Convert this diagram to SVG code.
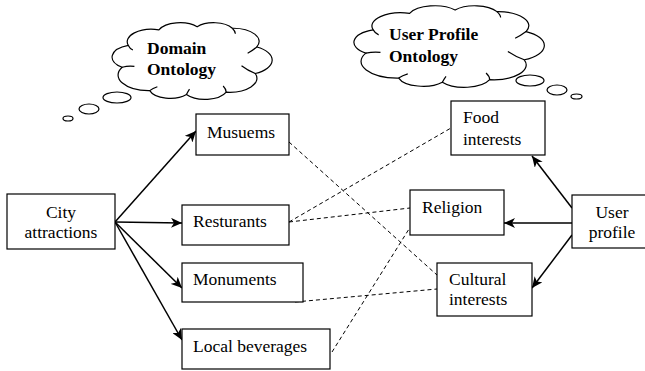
<svg xmlns="http://www.w3.org/2000/svg" width="645" height="371" viewBox="0 0 645 371">
<style>
.box{fill:#fff;stroke:#000;stroke-width:1.2}
.t{font-size:17.5px;fill:#000}
.b{font-size:17.5px;font-weight:bold;fill:#000}
.arr{stroke:#000;stroke-width:1.5;fill:none;marker-end:url(#ah)}
.dash{stroke:#000;stroke-width:1;fill:none;stroke-dasharray:4 3}
.cloud{fill:#fff;stroke:#000;stroke-width:1.2;vector-effect:non-scaling-stroke}
.hook{fill:none;stroke:#000;stroke-width:1.2;vector-effect:non-scaling-stroke}
.bub{fill:#fff;stroke:#000;stroke-width:1.2}
</style>
<defs>
<marker id="ah" markerUnits="userSpaceOnUse" markerWidth="12" markerHeight="10" refX="11" refY="5" orient="auto">
<path d="M0,0 L11,5 L0,10 L3,5 Z" fill="#000"/>
</marker>
<g id="cloudShape">
<path class="cloud" d="M6,58 A16,16 0 0 1 10,30 A16,16 0 0 1 30,10 A15,15 0 0 1 55,6 A14,14 0 0 1 78,8 A17,17 0 0 1 94,32 A19,19 0 0 1 93,66 A18,18 0 0 1 74,90 A15,15 0 0 1 48,93 A14,14 0 0 1 24,88 A20,20 0 0 1 6,58 Z"/>
<path class="hook" d="M6,58 Q10,56 14,57 M10,30 Q11,34 13,36 M78,8 Q80,12 80,15 M94,32 Q91,37 88,40 M93,66 Q88,62 84,56 M74,90 Q74,86 72,82 M48,93 Q49,89 50,86 M24,88 Q26,85 29,83"/>
</g>
</defs>

<g font-family="'Liberation Serif','Times New Roman',Tinos,'DejaVu Serif','Noto Serif',serif">
<g id="domain-ontology">
<use href="#cloudShape" transform="translate(113,22) scale(1.53,0.78)"/>
<ellipse class="bub" cx="117" cy="97.5" rx="14" ry="5.5"/>
<ellipse class="bub" cx="89" cy="109" rx="10" ry="5"/>
<ellipse class="bub" cx="68" cy="118.5" rx="5" ry="2.5"/>
<text class="b" x="147" y="54">Domain</text>
<text class="b" x="147" y="75">Ontology</text>
</g>

<g id="user-profile-ontology">
<use href="#cloudShape" transform="translate(355,5) scale(1.82,0.83)"/>
<ellipse class="bub" cx="530" cy="80.5" rx="14" ry="5.5"/>
<ellipse class="bub" cx="557" cy="90" rx="10" ry="5"/>
<ellipse class="bub" cx="576.5" cy="96.5" rx="5.5" ry="2.5"/>
<text class="b" x="389" y="40">User Profile</text>
<text class="b" x="389" y="62">Ontology</text>
</g>

<g id="connectors">
<line class="arr" x1="115" y1="222" x2="196" y2="131"/>
<line class="arr" x1="115" y1="222" x2="182" y2="223"/>
<line class="arr" x1="115" y1="222" x2="182" y2="288"/>
<line class="arr" x1="115" y1="222" x2="182" y2="340"/>
<line class="arr" x1="572" y1="208" x2="532" y2="156"/>
<line class="arr" x1="572" y1="223" x2="504" y2="223"/>
<line class="arr" x1="572" y1="235" x2="532" y2="288"/>
<line class="dash" x1="289" y1="142" x2="437" y2="275"/>
<line class="dash" x1="289" y1="222" x2="451" y2="128"/>
<line class="dash" x1="289" y1="222" x2="410" y2="208"/>
<line class="dash" x1="295" y1="302" x2="437" y2="289"/>
<line class="dash" x1="332" y1="352" x2="409" y2="229"/>
</g>

<g id="city-attractions">
<rect class="box" x="7" y="194" width="108" height="55"/>
<text class="t" x="61" y="218" text-anchor="middle">City</text>
<text class="t" x="61" y="238" text-anchor="middle">attractions</text>
</g>
<g id="musuems">
<rect class="box" x="196" y="114" width="93" height="41"/>
<text class="t" x="207" y="138">Musuems</text>
</g>
<g id="resturants">
<rect class="box" x="182" y="205" width="107" height="40"/>
<text class="t" x="193" y="227">Resturants</text>
</g>
<g id="monuments">
<rect class="box" x="182" y="263" width="121" height="39"/>
<text class="t" x="193" y="285">Monuments</text>
</g>
<g id="local-beverages">
<rect class="box" x="182" y="329" width="148" height="40"/>
<text class="t" x="193" y="352">Local beverages</text>
</g>
<g id="food-interests">
<rect class="box" x="451" y="101" width="94" height="54"/>
<text class="t" x="463" y="123">Food</text>
<text class="t" x="463" y="145">interests</text>
</g>
<g id="religion">
<rect class="box" x="410" y="190" width="94" height="45"/>
<text class="t" x="422" y="213">Religion</text>
</g>
<g id="cultural-interests">
<rect class="box" x="437" y="263" width="95" height="53"/>
<text class="t" x="449" y="285">Cultural</text>
<text class="t" x="449" y="305">interests</text>
</g>
<g id="user-profile">
<rect class="box" x="572" y="195" width="80" height="53"/>
<text class="t" x="612" y="218" text-anchor="middle">User</text>
<text class="t" x="612" y="238" text-anchor="middle">profile</text>
</g>
</g>
</svg>
